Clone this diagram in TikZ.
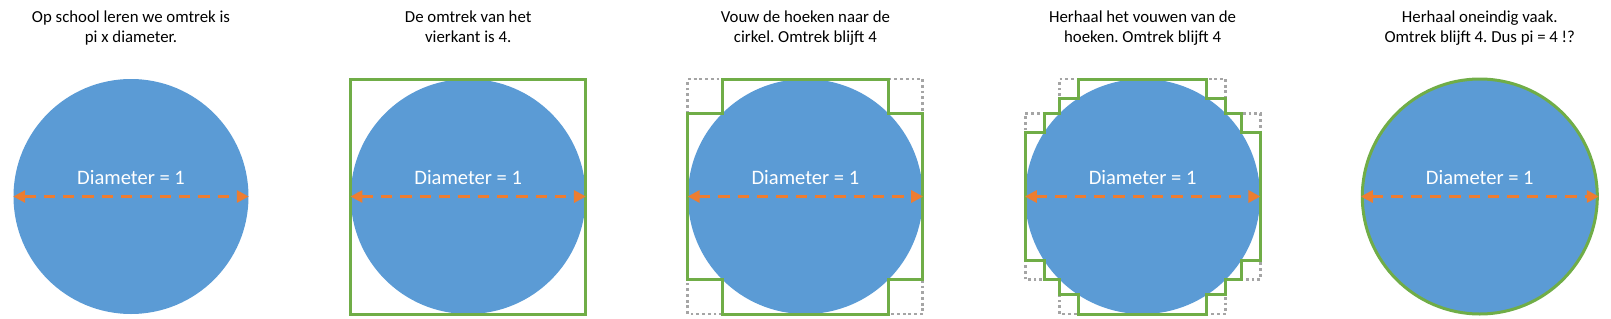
\documentclass[tikz,border=0pt]{standalone}
\usepackage{fontspec}
\setmainfont{Carlito}
\usetikzlibrary{arrows.meta}
\frenchspacing
\definecolor{cblue}{HTML}{5B9BD5}
\definecolor{cgreen}{HTML}{70AD47}
\definecolor{corange}{HTML}{ED7D31}
\definecolor{cgray}{HTML}{A5A5A5}
\tikzset{
  disc/.style={circle, fill=cblue, inner sep=0pt, minimum size=176.25pt},
  diam/.style={corange, line width=2.25pt, dash pattern=on 8.5pt off 6pt,
    {Triangle[length=9pt,width=9pt]}-{Triangle[length=9pt,width=9pt]}},
  titletext/.style={align=center, font=\fontsize{12.6}{15}\selectfont, anchor=base},
  dlabel/.style={text=white, font=\fontsize{15.4}{18}\selectfont, anchor=base, inner sep=0pt},
  outline/.style={cgreen, line width=2.25pt},
  oldline/.style={cgray, line width=2.2pt, dash pattern=on 2.1pt off 2.2pt},
  unitr/.style={x=88.125pt, y=88.125pt}
}
\begin{document}
\begin{tikzpicture}[x=0.75pt, y=-0.75pt]
\useasboundingbox (0,0) rectangle (1611,318);
\def\a{0.70711}
\def\b{0.54533}
\def\c{0.83822}

% Panel 1
\node[titletext] (t1) at (131,42.7) {Op school leren we omtrek is\\pi x diameter.};
\node[disc] (c1) at (131,196.5) {};
\node[dlabel] (d1) at (131,184.3) {Diameter = 1};
\draw[diam] (c1.west) -- (c1.east);

% Panel 2
\node[titletext] (t2) at (468.2,42.7) {De omtrek van het\\vierkant is 4.};
\node[disc] (c2) at (468.2,196.5) {};
\begin{scope}[shift={(468.2,196.5)}, unitr]
  \draw[outline] (-1,-1) rectangle (1,1);
\end{scope}
\node[dlabel] (d2) at (468.2,184.3) {Diameter = 1};
\draw[diam] (c2.west) -- (c2.east);

% Panel 3
\node[titletext] (t3) at (805.4,42.7) {Vouw de hoeken naar de\\cirkel. Omtrek blijft 4};
\node[disc] (c3) at (805.4,196.5) {};
\begin{scope}[shift={(805.4,196.5)}, unitr]
  \draw[oldline] (-1,-1) rectangle (1,1);
  \draw[outline] (\a,1) -- (\a,\a) -- (1,\a) -- (1,-\a) -- (\a,-\a) -- (\a,-1)
    -- (-\a,-1) -- (-\a,-\a) -- (-1,-\a) -- (-1,\a) -- (-\a,\a) -- (-\a,1) -- cycle;
\end{scope}
\node[dlabel] (d3) at (805.4,184.3) {Diameter = 1};
\draw[diam] (c3.west) -- (c3.east);

% Panel 4
\node[titletext] (t4) at (1142.6,42.7) {Herhaal het vouwen van de\\hoeken. Omtrek blijft 4};
\node[disc] (c4) at (1142.6,196.5) {};
\begin{scope}[shift={(1142.6,196.5)}, unitr]
  \draw[oldline] (\a,1) -- (\a,\a) -- (1,\a) -- (1,-\a) -- (\a,-\a) -- (\a,-1)
    -- (-\a,-1) -- (-\a,-\a) -- (-1,-\a) -- (-1,\a) -- (-\a,\a) -- (-\a,1) -- cycle;
  \draw[outline] (\b,1) -- (\b,\c) -- (\a,\c) -- (\a,\a) -- (\c,\a) -- (\c,\b) -- (1,\b)
    -- (1,-\b) -- (\c,-\b) -- (\c,-\a) -- (\a,-\a) -- (\a,-\c) -- (\b,-\c) -- (\b,-1)
    -- (-\b,-1) -- (-\b,-\c) -- (-\a,-\c) -- (-\a,-\a) -- (-\c,-\a) -- (-\c,-\b) -- (-1,-\b)
    -- (-1,\b) -- (-\c,\b) -- (-\c,\a) -- (-\a,\a) -- (-\a,\c) -- (-\b,\c) -- (-\b,1) -- cycle;
\end{scope}
\node[dlabel] (d4) at (1142.6,184.3) {Diameter = 1};
\draw[diam] (c4.west) -- (c4.east);

% Panel 5
\node[titletext] (t5) at (1479.8,42.7) {Herhaal oneindig vaak.\\Omtrek blijft 4. Dus pi = 4 !?};
\node[disc, draw=cgreen, line width=2.25pt] (c5) at (1479.8,196.5) {};
\node[dlabel] (d5) at (1479.8,184.3) {Diameter = 1};
\draw[diam] (c5.west) -- (c5.east);
\end{tikzpicture}
\end{document}
